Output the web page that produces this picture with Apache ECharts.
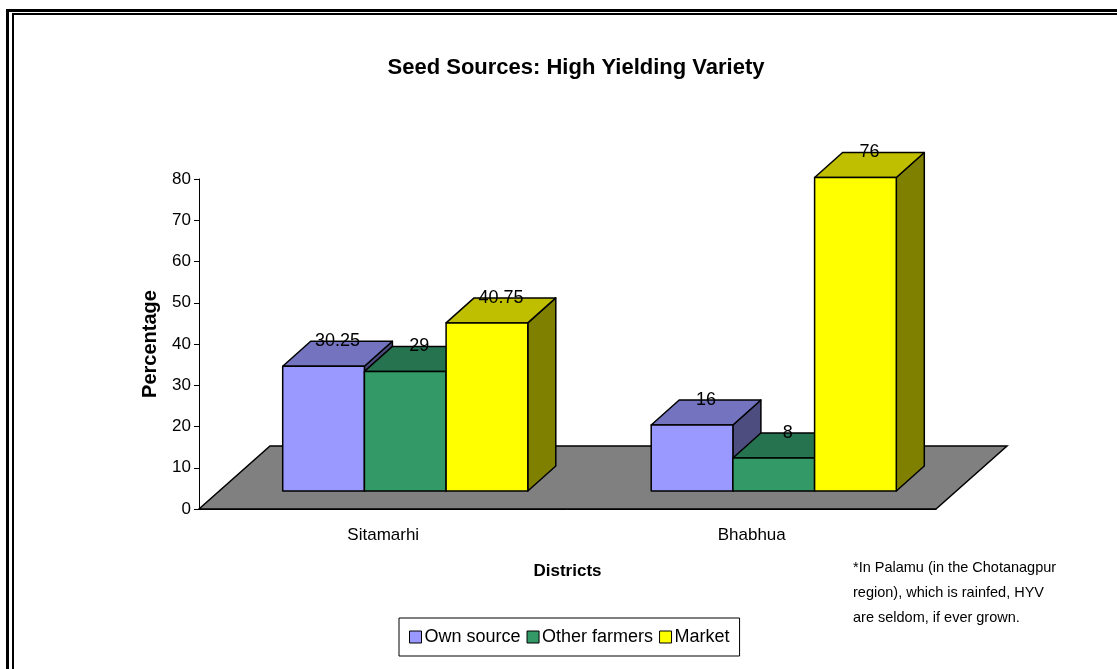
<!DOCTYPE html>
<html>
<head>
<meta charset="utf-8">
<title>Seed Sources: High Yielding Variety</title>
<script src="https://cdn.jsdelivr.net/npm/echarts@6/dist/echarts.min.js"></script>
<style>
  html, body { margin: 0; padding: 0; background: #fff; }
  #seedChart { width: 1117px; height: 669px; }
</style>
</head>
<body>
<div id="seedChart"></div>
<script>
// data
var districts = ["Sitamarhi", "Bhabhua"];
var sourceNames = ["Own source", "Other farmers", "Market"];
var ownSource = [30.25, 16];
var otherFarmers = [29, 8];
var market = [40.75, 76];
var yMax = 80;
var yStep = 10;

var faceColors = [
  { front: "#9999ff", top: "#7373bf", side: "#4d4d80" },
  { front: "#339966", top: "#267350", side: "#1a4d33" },
  { front: "#ffff00", top: "#bfbf00", side: "#808000" },
];

var fontFamily = "'Liberation Sans', Arial, sans-serif";

// fake 3d projection (pixels)
var FLOOR_DX = 71, FLOOR_DY = -63;
var FRONT_DX = 22, FRONT_DY = -18;
var DEPTH_DX = 28, DEPTH_DY = -25;

function barRenderer(seriesIdx) {
  return function (params, api) {
    var cat = api.value(0);
    var val = api.value(1);
    var base = api.coord([cat, 0]);
    var top = api.coord([cat, val]);
    var band = api.size([1, 0])[0];
    var w = band * 0.2217;
    var x0 = base[0] + (seriesIdx - 1.5) * w + FRONT_DX;
    var yb = base[1] + FRONT_DY;
    var yt = top[1] + FRONT_DY;
    var c = faceColors[seriesIdx];
    var line = { stroke: "#000", lineWidth: 1.5, lineJoin: "round" };
    return {
      type: "group",
      children: [
        {
          type: "polygon",
          shape: { points: [[x0 + w, yt], [x0 + w + DEPTH_DX, yt + DEPTH_DY], [x0 + w + DEPTH_DX, yb + DEPTH_DY], [x0 + w, yb]] },
          style: Object.assign({ fill: c.side }, line),
        },
        {
          type: "polygon",
          shape: { points: [[x0, yt], [x0 + w, yt], [x0 + w + DEPTH_DX, yt + DEPTH_DY], [x0 + DEPTH_DX, yt + DEPTH_DY]] },
          style: Object.assign({ fill: c.top }, line),
        },
        {
          type: "rect",
          shape: { x: x0, y: yt, width: w, height: yb - yt },
          style: Object.assign({ fill: c.front }, line),
        },
        {
          type: "text",
          x: x0 + w / 2 + DEPTH_DX / 2,
          y: yt + DEPTH_DY,
          style: {
            text: String(val),
            fill: "#000",
            font: "18px " + fontFamily,
            align: "center",
            verticalAlign: "middle",
          },
        },
      ],
    };
  };
}

function toPairs(arr) {
  return arr.map(function (v, i) { return [i, v]; });
}

var seriesValues = [ownSource, otherFarmers, market];

var chart = echarts.init(document.getElementById("seedChart"));

var series = [
  {
    name: "floor",
    type: "custom",
    z: 1,
    silent: true,
    data: [[0, 0]],
    renderItem: function (params, api) {
      var cs = params.coordSys;
      var y0 = api.coord([0, 0])[1];
      var x0 = cs.x, x1 = cs.x + cs.width;
      return {
        type: "polygon",
        shape: { points: [[x0, y0], [x1, y0], [x1 + FLOOR_DX, y0 + FLOOR_DY], [x0 + FLOOR_DX, y0 + FLOOR_DY]] },
        style: { fill: "#808080", stroke: "#000", lineWidth: 1.5 },
      };
    },
  },
];

seriesValues.forEach(function (vals, i) {
  series.push({
    name: sourceNames[i],
    type: "custom",
    z: 3 + i,
    itemStyle: { color: faceColors[i].front },
    data: toPairs(vals),
    renderItem: barRenderer(i),
  });
});

var option = {
  animation: false,
  title: {
    text: "Seed Sources: High Yielding Variety",
    left: 571,
    top: 52,
    textAlign: "center",
    textStyle: { fontFamily: fontFamily, fontSize: 22, fontWeight: "bold", color: "#000" },
  },
  legend: {
    data: sourceNames.map(function (n) {
      return { name: n, itemStyle: { borderColor: "#000", borderWidth: 1 } };
    }),
    icon: "rect",
    left: 399,
    top: 618,
    itemWidth: 12,
    itemHeight: 12,
    itemGap: 6,
    padding: [10, 10],
    borderColor: "#000",
    borderWidth: 1,
    textStyle: { fontFamily: fontFamily, fontSize: 18, color: "#000", padding: [0, 0, 0, -2] },
  },
  grid: {
    left: 199,
    right: 181,
    top: 179,
    bottom: 160,
  },
  xAxis: {
    type: "category",
    data: districts,
    name: "Districts",
    nameLocation: "middle",
    nameGap: 54,
    nameTextStyle: { fontFamily: fontFamily, fontSize: 17, fontWeight: "bold", color: "#000" },
    axisLine: { lineStyle: { color: "#000", width: 1 } },
    axisTick: { length: 5, lineStyle: { color: "#000" } },
    axisLabel: { fontFamily: fontFamily, fontSize: 17, color: "#000", margin: 18 },
  },
  yAxis: {
    type: "value",
    min: 0,
    max: yMax,
    interval: yStep,
    name: "Percentage",
    nameLocation: "middle",
    nameGap: 39,
    nameTextStyle: { fontFamily: fontFamily, fontSize: 20, fontWeight: "bold", color: "#000" },
    axisLine: { show: true, lineStyle: { color: "#000", width: 1 } },
    axisTick: { show: true, length: 5, lineStyle: { color: "#000" } },
    axisLabel: { fontFamily: fontFamily, fontSize: 17, color: "#000", margin: 8 },
    splitLine: { show: false },
  },
  graphic: [
    {
      type: "rect",
      silent: true,
      shape: { x: 7.5, y: 10.5, width: 1200, height: 800 },
      style: { fill: "none", stroke: "#000", lineWidth: 3 },
    },
    {
      type: "rect",
      silent: true,
      shape: { x: 13, y: 14, width: 1200, height: 800 },
      style: { fill: "none", stroke: "#000", lineWidth: 2 },
    },
    {
      type: "text",
      left: 853,
      top: 555,
      style: {
        text: "*In Palamu (in the Chotanagpur\nregion), which is rainfed, HYV\nare seldom, if ever grown.",
        font: "14.5px " + fontFamily,
        fill: "#000",
        lineHeight: 25,
      },
    },
  ],
  series: series,
};

chart.setOption(option);
</script>
</body>
</html>
